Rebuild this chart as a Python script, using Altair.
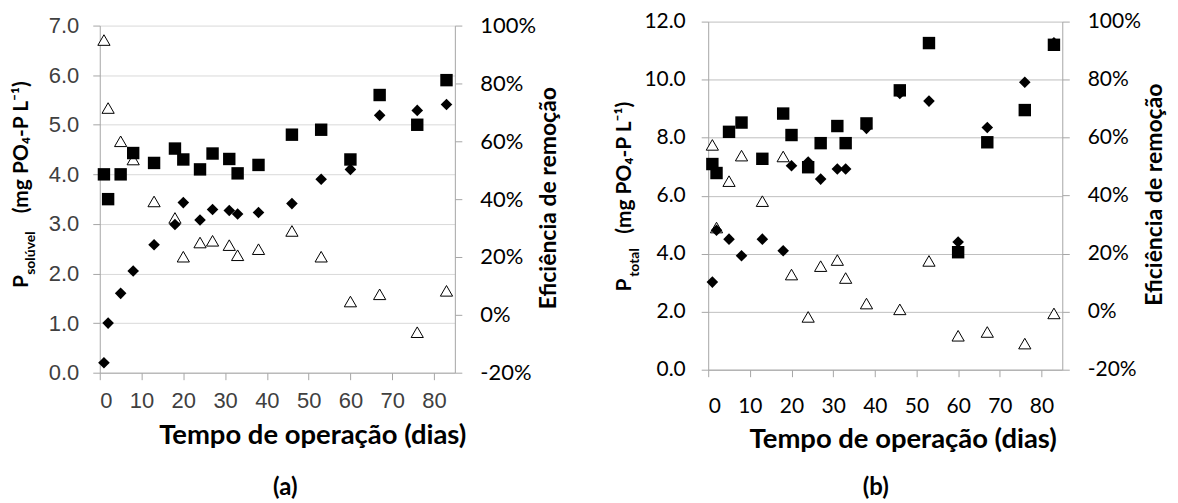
import altair as alt
import pandas as pd

# ---------------- data ----------------
dias = [1, 2, 5, 8, 13, 18, 20, 24, 27, 31, 33, 38, 46, 53, 60, 67, 76, 83]

# (a) P solúvel
a_quadrado = [4.00, 3.50, 4.00, 4.43, 4.23, 4.52, 4.30, 4.10, 4.42, 4.31, 4.02, 4.19, 4.80, 4.90, 4.30, 5.60, 5.00, 5.90]
a_losango = [0.20, 1.00, 1.60, 2.05, 2.58, 2.99, 3.43, 3.08, 3.29, 3.27, 3.20, 3.23, 3.41, 3.90, 4.10, 5.19, 5.29, 5.41]
a_eficiencia = [95.0, 71.5, 60.0, 53.7, 39.2, 33.5, 20.1, 25.0, 25.6, 24.1, 20.6, 22.7, 29.0, 20.1, 4.6, 7.1, -6.0, 8.3]

# (b) P total
b_quadrado = [7.09, 6.78, 8.20, 8.52, 7.27, 8.83, 8.09, 6.98, 7.81, 8.40, 7.81, 8.49, 9.63, 11.26, 4.05, 7.84, 8.95, 11.20]
b_losango = [3.02, 4.81, 4.50, 3.93, 4.50, 4.10, 7.03, 7.16, 6.57, 6.92, 6.92, 8.32, 9.52, 9.26, 4.40, 8.35, 9.91, 11.27]
b_eficiencia = [57.5, 29.0, 45.0, 53.8, 38.1, 53.5, 12.8, -1.8, 15.7, 17.8, 11.6, 2.8, 0.8, 17.5, -8.3, -7.0, -11.0, -0.6]

x_ticks = [0, 10, 20, 30, 40, 50, 60, 70, 80]
ef_ticks = [-0.2, 0.0, 0.2, 0.4, 0.6, 0.8, 1.0]
a_ticks = [0, 1, 2, 3, 4, 5, 6, 7]
b_ticks = [0, 2, 4, 6, 8, 10, 12]

titulo_x = "Tempo de operação (dias)"
titulo_ef = "Eficiência de remoção"
titulo_p_resto = "(mg PO₄-P L⁻¹)"

TITLE_FONT = "Lato"
PCT_EXPR = "(datum.value < 0 ? '-' : '') + format(abs(datum.value), '.0%')"


def painel(quad, los, efic, y_max, y_ticks, sub, label, sty):
    n = len(dias)
    df_p = pd.DataFrame({
        "dia": dias * 2,
        "valor": quad + los,
        "serie": ["quadrado"] * n + ["losango"] * n,
    })
    df_e = pd.DataFrame({"dia": dias, "ef": [v / 100 for v in efic]})
    one = pd.DataFrame({"k": [0]})

    W, H, top = sty["w"], sty["h"], sty["top"]
    rng = [H, top]
    xs = alt.Scale(domain=[0, 85], nice=False)
    x_axis = alt.Axis(
        values=x_ticks, title=titulo_x, grid=False,
        labelFont=sty["xfont"], labelFontSize=sty["xsize"], labelColor=sty["xcolor"],
        labelBaseline="alphabetic", labelPadding=sty["xpad"],
        tickSize=7, tickColor=sty["axis"], domainColor=sty["axis"],
        titleFont=TITLE_FONT, titleFontWeight="bold", titleFontSize=sty["xtsize"],
        titleColor="black", titleX=sty["tx"], titleY=sty["ty"],
        titleAlign="center", titleBaseline="alphabetic",
    )

    tri = alt.Chart(df_e).mark_point(
        shape="triangle-up", filled=True, fill="white", stroke="black",
        strokeWidth=1, size=150, opacity=1,
    ).encode(
        x=alt.X("dia:Q", scale=xs, axis=x_axis),
        y=alt.Y("ef:Q", scale=alt.Scale(domain=[-0.2, 1.0], range=rng, nice=False, zero=False),
                axis=alt.Axis(
                    orient="right", values=ef_ticks, labelExpr=PCT_EXPR, grid=False,
                    labelFont="Lato", labelFontSize=sty["rsize"], labelColor="black",
                    labelPadding=sty["rpad"], tickSize=7, tickColor=sty["axis"],
                    domainColor=sty["axis"], title=None,
                )),
    )

    pts = alt.Chart(df_p).mark_point(filled=True, color="black", opacity=1).encode(
        x=alt.X("dia:Q", scale=xs, axis=x_axis),
        y=alt.Y("valor:Q", scale=alt.Scale(domain=[0, y_max], range=rng, nice=False),
                axis=alt.Axis(
                    orient="left", values=y_ticks, format=".1f", title=None,
                    grid=True, gridColor=sty["grid"], gridWidth=1,
                    labelFont=sty["lfont"], labelFontSize=sty["lsize"],
                    labelColor=sty["lcolor"], labelPadding=sty["lpad"],
                    tickSize=7, tickColor=sty["axis"], domainColor=sty["axis"],
                )),
        shape=alt.Shape("serie:N", scale=alt.Scale(domain=["quadrado", "losango"],
                                                    range=["square", "diamond"]), legend=None),
        size=alt.Size("serie:N", scale=alt.Scale(domain=["quadrado", "losango"],
                                                  range=[155, 135]), legend=None),
    )

    def txt(text, size, x, y, align="center", angle=270, baseline="alphabetic"):
        return alt.Chart(one).mark_text(
            text=text, font=TITLE_FONT, fontWeight="bold", fontSize=size,
            angle=angle, align=align, baseline=baseline, color="black",
        ).encode(x=alt.value(x), y=alt.value(y))

    t_p = txt("P", sty["tsize"], sty["px"], sty["py"])
    t_sub = txt(sub, sty["ssize"], sty["sx"], sty["sy"])
    t_rest = txt(titulo_p_resto, sty["tsize"], sty["px"], sty["my"])
    t_ef = txt(titulo_ef, sty["rtsize"], W + sty["rtx"], sty["rty"])
    t_lab = txt(label, sty["labsize"], sty["labx"], sty["laby"],
                angle=0, baseline="middle")

    # invisible guides fixing the panel's outer extent (layout only)
    g_left = alt.Chart(one).mark_rule(opacity=0).encode(
        x=alt.value(sty["gx"]), y=alt.value(sty["gy"]), y2=alt.value(0))
    g_right = alt.Chart(one).mark_rule(opacity=0).encode(
        x=alt.value(W + sty["gr"]), y=alt.value(0), y2=alt.value(1))

    layers = [tri, pts, t_p, t_sub, t_rest, t_ef, t_lab, g_left, g_right]
    return alt.layer(*layers).resolve_scale(y="independent").properties(width=W, height=H)


# panel origin sits at y = 21 (page), both panels share it
sty_a = dict(
    w=356, h=352, top=4,
    xfont="Liberation Sans", xsize=22, xcolor="#404040", xpad=28,
    lfont="Liberation Sans", lsize=22, lcolor="#404040", lpad=14,
    rsize=22, rpad=18, axis="#a6a6a6", grid="#d9d9d9",
    xtsize=27.5, tx=213, ty=71, rtsize=23, rtx=101, rty=177,
    tsize=21, px=-71.5, py=260.5, ssize=14, sx=-65, sy=232, my=126,
    labsize=24, labx=186, laby=468,
    gx=-91.5, gy=-13, gr=110,
)
sty_b = dict(
    w=355, h=349, top=0,
    xfont="Lato", xsize=21, xcolor="black", xpad=36,
    lfont="Lato", lsize=21, lcolor="black", lpad=16,
    rsize=21, rpad=18, axis="#a6a6a6", grid="#bfbfbf",
    xtsize=27.5, tx=195, ty=78, rtsize=23, rtx=100, rty=173.5,
    tsize=21, px=-77, py=264, ssize=14, sx=-69, sy=241.5, my=146.5,
    labsize=24, labx=168, laby=468,
    gx=-100, gy=-13, gr=108,
)

pa = painel(a_quadrado, a_losango, a_eficiencia, 7, a_ticks, "solúvel", "(a)", sty_a)
pb = painel(b_quadrado, b_losango, b_eficiencia, 12, b_ticks, "total", "(b)", sty_b)

chart = alt.hconcat(pa, pb, spacing=44).properties(
    padding={"left": 0, "top": 0, "right": 0, "bottom": 0}
).configure_view(stroke=None)

chart.save("out.html", embed_options={"renderer": "svg", "actions": False})
